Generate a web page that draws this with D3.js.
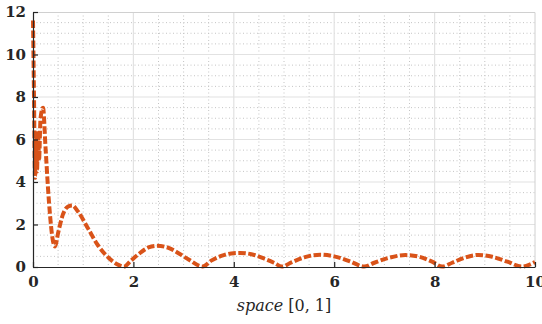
<!DOCTYPE html>
<html>
<head>
<meta charset="utf-8">
<script src="https://cdn.jsdelivr.net/npm/d3@7"></script>
<style>
  body { margin: 0; background: #fff; }
</style>
</head>
<body>
<script>
// values
var xs = [0, 0.02, 0.04, 0.06, 0.08, 0.10, 0.12, 0.15, 0.20, 0.25, 0.32, 0.40, 0.44, 0.50, 0.60, 0.70, 0.78, 0.90,
          1.10, 1.30, 1.50, 1.70, 1.81, 1.95, 2.10, 2.30, 2.47, 2.70, 2.90, 3.10, 3.38, 3.55, 3.75, 3.95, 4.13,
          4.35, 4.60, 4.80, 4.96, 5.15, 5.40, 5.72, 6.00, 6.30, 6.60, 6.80, 7.10, 7.42, 7.70, 7.95, 8.15,
          8.35, 8.60, 8.87, 9.15, 9.45, 9.74, 9.90, 10.0];
var ys = [11.6, 8.0, 4.2, 6.0, 4.5, 6.4, 5.0, 7.0, 7.5, 5.6, 3.0, 1.2, 0.97, 1.6, 2.5, 2.85, 2.9, 2.6,
          1.8, 1.0, 0.45, 0.1, 0.02, 0.3, 0.6, 0.92, 1.0, 0.9, 0.65, 0.35, 0.02, 0.3, 0.52, 0.64, 0.66,
          0.6, 0.4, 0.2, 0.02, 0.22, 0.45, 0.58, 0.5, 0.28, 0.02, 0.2, 0.44, 0.56, 0.48, 0.25, 0.02,
          0.2, 0.44, 0.57, 0.48, 0.25, 0.02, 0.12, 0.23];
var xTicks = [0, 2, 4, 6, 8, 10];
var yTicks = [0, 2, 4, 6, 8, 10, 12];

var data = xs.map(function(d, i) { return [d, ys[i]]; });

var serif = "'DejaVu Serif', 'Liberation Serif', serif";

var margin = {top: 12, right: 7, bottom: 57, left: 33},
    W = 542, H = 324,
    width = W - margin.left - margin.right,
    height = H - margin.top - margin.bottom;

var svg = d3.select("body").append("svg")
    .attr("width", W)
    .attr("height", H);

var g = svg.append("g")
    .attr("transform", "translate(" + margin.left + "," + margin.top + ")");

var x = d3.scaleLinear().domain([0, 10]).range([0, width]);
var y = d3.scaleLinear().domain([0, 12]).range([height, 0]);

// minor grid (every 0.5)
var minorX = d3.range(0.5, 10, 0.5).filter(function(v) { return v % 2 != 0; });
var minorY = d3.range(0.5, 12, 0.5).filter(function(v) { return v % 2 != 0; });

g.append("g").selectAll("line").data(minorX).enter().append("line")
    .attr("x1", x).attr("x2", x).attr("y1", 0).attr("y2", height)
    .attr("stroke", "#c4c4c4").attr("stroke-dasharray", "1,2.5");
g.append("g").selectAll("line").data(minorY).enter().append("line")
    .attr("y1", y).attr("y2", y).attr("x1", 0).attr("x2", width)
    .attr("stroke", "#c4c4c4").attr("stroke-dasharray", "1,2.5");

// major grid
g.append("g").selectAll("line").data(xTicks.slice(1, -1)).enter().append("line")
    .attr("x1", x).attr("x2", x).attr("y1", 0).attr("y2", height)
    .attr("stroke", "#e2e2e2").attr("stroke-width", 1.2);
g.append("g").selectAll("line").data(yTicks.slice(1, -1)).enter().append("line")
    .attr("y1", y).attr("y2", y).attr("x1", 0).attr("x2", width)
    .attr("stroke", "#e2e2e2").attr("stroke-width", 1.2);

// box top/right
g.append("path")
    .attr("d", "M0,0.5H" + width + "V" + height)
    .attr("fill", "none").attr("stroke", "#d0d0d0");

// curve
var line = d3.line()
    .x(function(d) { return x(d[0]); })
    .y(function(d) { return y(d[1]); })
    .curve(d3.curveMonotoneX);

g.append("path")
    .datum(data)
    .attr("d", line)
    .attr("fill", "none")
    .attr("stroke", "#D95319")
    .attr("stroke-width", 4)
    .attr("stroke-dasharray", "7.5,2.5");

// axes
var xAxis = g.append("g")
    .attr("transform", "translate(0," + height + ")")
    .call(d3.axisBottom(x).tickValues(xTicks).tickSizeInner(-5).tickSizeOuter(0).tickPadding(9));
var yAxis = g.append("g")
    .call(d3.axisLeft(y).tickValues(yTicks).tickSizeInner(-5).tickSizeOuter(0).tickPadding(7));

[xAxis, yAxis].forEach(function(a) {
    a.select(".domain").attr("stroke", "#262626").attr("stroke-width", 1.2);
    a.selectAll(".tick line").attr("stroke", "#262626").attr("stroke-width", 1.2);
    a.selectAll(".tick text")
        .style("font-family", serif)
        .style("font-weight", "bold")
        .style("font-size", "15px")
        .style("fill", "#262626");
});

// x label
var lab = svg.append("text")
    .attr("x", margin.left + width / 2)
    .attr("y", 311)
    .attr("text-anchor", "middle")
    .style("font-family", serif)
    .style("font-size", "16px")
    .style("fill", "#262626");
lab.append("tspan").style("font-style", "italic").text("space");
lab.append("tspan").text(" [0, 1]");
</script>
</body>
</html>
